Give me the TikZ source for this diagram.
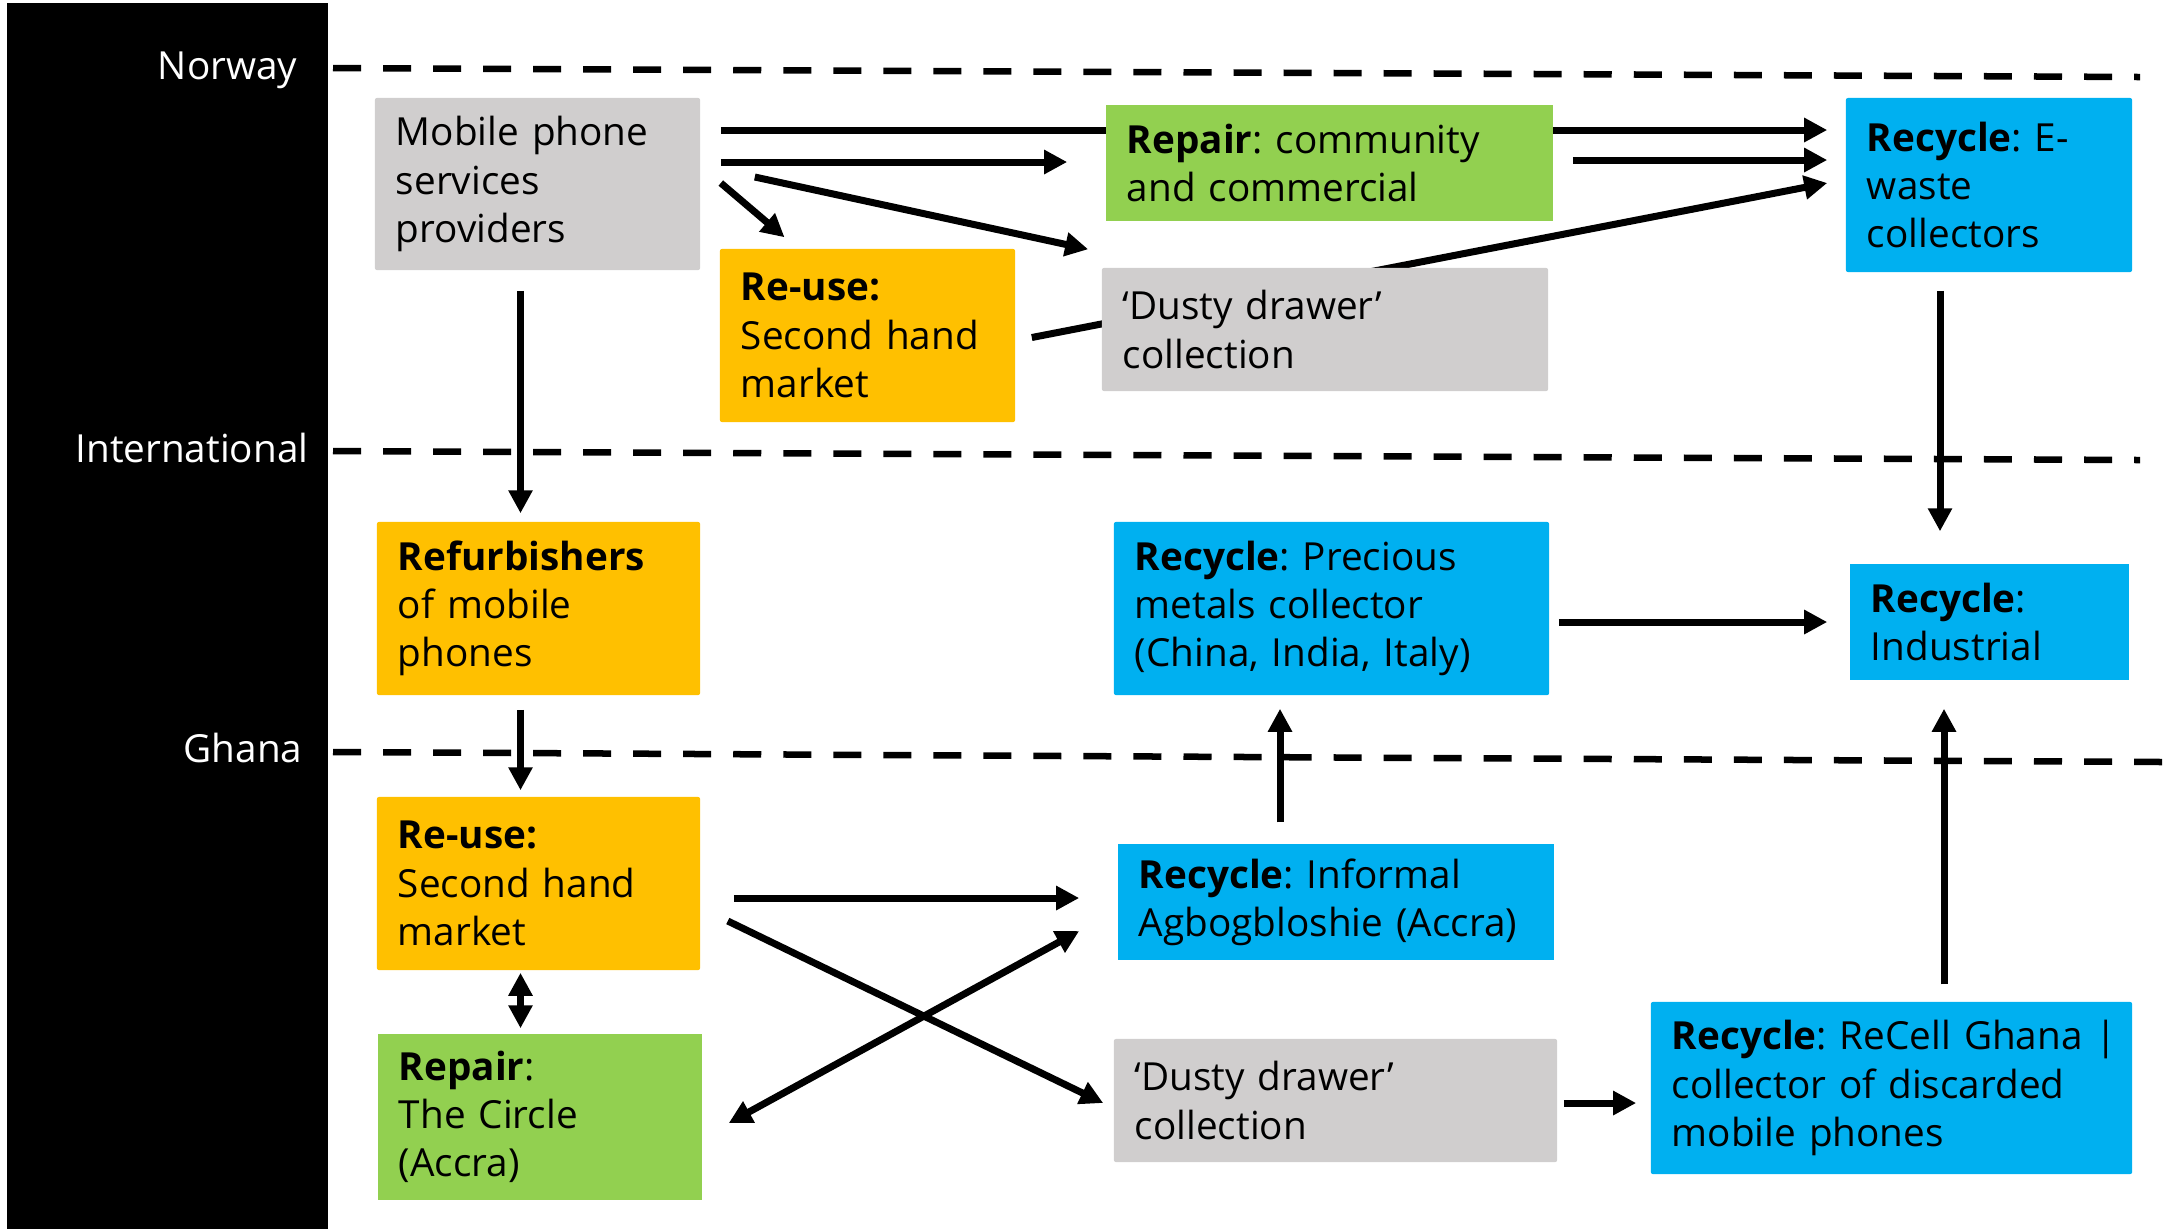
\documentclass[tikz,border=0pt]{standalone}
\usepackage{fontspec}
\setmainfont{Open Sans}
\usetikzlibrary{arrows.meta,backgrounds}

\definecolor{boxgrey}{HTML}{D0CECE}
\definecolor{boxgreen}{HTML}{92D050}
\definecolor{boxblue}{HTML}{00B0F0}
\definecolor{boxyellow}{HTML}{FFC000}

\begin{document}
\frenchspacing
\begin{tikzpicture}[x=0.01cm, y=-0.01cm,
    every node/.style={font=\fontsize{11}{13.7}\selectfont},
    box/.style={rectangle, inner xsep=0.21cm, inner ysep=0pt, align=left, rounded corners=0.02cm},
    greybox/.style={box, fill=boxgrey},
    greenbox/.style={box, fill=boxgreen},
    bluebox/.style={box, fill=boxblue},
    yellowbox/.style={box, fill=boxyellow},
    region/.style={text=white, anchor=base east, inner sep=0pt},
    divider/.style={line width=0.065cm, dash pattern=on 0.28cm off 0.22cm},
    arr/.style={line width=0.07cm, -{Triangle[length=0.23cm,width=0.23cm]}},
    dbl/.style={line width=0.07cm, {Triangle[length=0.23cm,width=0.23cm]}-{Triangle[length=0.23cm,width=0.23cm]}}]
\useasboundingbox (0,0) rectangle (2164,1229);

% side bar and levels
\fill (7,3) rectangle (328,1229);
\node[region] (norway) at (298,79) {Norway};
\node[region] (intl) at (309,462) {International};
\node[region] (ghana) at (303,762) {Ghana};

\draw[divider] (333,68) -- (2140,77);
\draw[divider] (333,451) -- (2140,460);
\draw[divider] (333,752) -- (2164,762);

% Norway
\node[greybox, text width=2.83cm, minimum height=1.72cm] (mobile) at (537.5,184) {Mobile phone\\services\\providers};
\node[greenbox, text width=4.05cm, minimum height=1.16cm, rounded corners=0] (repairN) at (1329.5,163) {\textbf{Repair}: community\\and commercial};
\node[bluebox, text width=2.44cm, minimum height=1.74cm] (ewaste) at (1989,185) {\mbox{\textbf{Recycle}: E-}\\waste\\collectors};
\node[yellowbox, text width=2.53cm, minimum height=1.73cm] (reuseN) at (867.5,335.5) {\textbf{Re-use:}\\\mbox{Second hand}\\market};
\node[greybox, text width=4.04cm, minimum height=1.23cm] (dustyN) at (1325,329.5) {‘Dusty drawer’\\collection};

% International
\node[yellowbox, text width=2.81cm, minimum height=1.73cm] (refurb) at (538.5,608.5) {\textbf{Refurbishers}\\of mobile\\phones};
\node[bluebox, text width=3.93cm, minimum height=1.73cm] (metals) at (1331.5,608.5) {\textbf{Recycle}: Precious\\metals collector\\\mbox{(China, India, Italy)}};
\node[bluebox, text width=2.37cm, minimum height=1.16cm, rounded corners=0] (industrial) at (1989.5,622) {\textbf{Recycle}:\\Industrial};

% Ghana
\node[yellowbox, text width=2.81cm, minimum height=1.73cm] (reuseG) at (538.5,883.5) {\textbf{Re-use:}\\\mbox{Second hand}\\market};
\node[greenbox, text width=2.82cm, minimum height=1.66cm, rounded corners=0] (circle) at (540,1117) {\textbf{Repair}:\\The Circle\\(Accra)};
\node[bluebox, text width=3.94cm, minimum height=1.16cm, rounded corners=0] (informal) at (1336,902) {\textbf{Recycle}: Informal\\\mbox{Agbogbloshie (Accra)}};
\node[greybox, text width=4.01cm, minimum height=1.23cm] (dustyG) at (1335.5,1100.5) {‘Dusty drawer’\\collection};
\node[bluebox, text width=4.39cm, minimum height=1.72cm] (recell) at (1891.5,1088) {\mbox{\textbf{Recycle}: ReCell Ghana |}\\\mbox{collector of discarded}\\mobile phones};

\begin{scope}[on background layer]
\draw[arr] ([shift={(20,-54)}]mobile.east) -- ([shift={(-18,-55)}]ewaste.west);
\draw[arr] ([shift={(20,-22)}]mobile.east) -- ([shift={(-38,-1)}]repairN.west);
\draw[arr] ([shift={(19,-3)}]repairN.east) -- ([shift={(-18,-25)}]ewaste.west);
\draw[arr] ([shift={(20,-1)}]mobile.east) -- ([shift={(-83,-11)}]reuseN.north);
\draw[arr] ([shift={(54,-7)}]mobile.east) -- ([shift={(-13,-18)}]dustyN.north west);
\draw[arr] ([shift={(16,2)}]reuseN.east) -- ([shift={(-18,-2)}]ewaste.west);

\draw[arr] ([shift={(-17,20)}]mobile.south) -- ([shift={(-18,-8)}]refurb.north);
\draw[arr] ([shift={(-49,18)}]ewaste.south) -- ([shift={(-49.5,-32)}]industrial.north);
\draw[arr] ([shift={(9,13.5)}]metals.east) -- ([shift={(-22,0)}]industrial.west);
\draw[arr] ([shift={(-56,-21)}]informal.north) -- ([shift={(-51.5,13)}]metals.south);
\draw[arr] ([shift={(52.5,-17)}]recell.north) -- ([shift={(-45.5,28)}]industrial.south);

\draw[arr] ([shift={(-18,14)}]refurb.south) -- ([shift={(-18,-6)}]reuseG.north);
\draw[dbl] ([shift={(-18,2)}]reuseG.south) -- ([shift={(-19.5,-5)}]circle.north);
\draw[arr] ([shift={(33,14.5)}]reuseG.east) -- ([shift={(-38,-4)}]informal.west);
\draw[arr] ([shift={(27,37.5)}]reuseG.east) -- ([shift={(-10,2.5)}]dustyG.west);
\draw[dbl] ([shift={(26,6)}]circle.east) -- ([shift={(-38,29)}]informal.west);
\draw[arr] ([shift={(6,2.5)}]dustyG.east) -- ([shift={(-14,15)}]recell.west);
\end{scope}
\end{tikzpicture}
\end{document}
